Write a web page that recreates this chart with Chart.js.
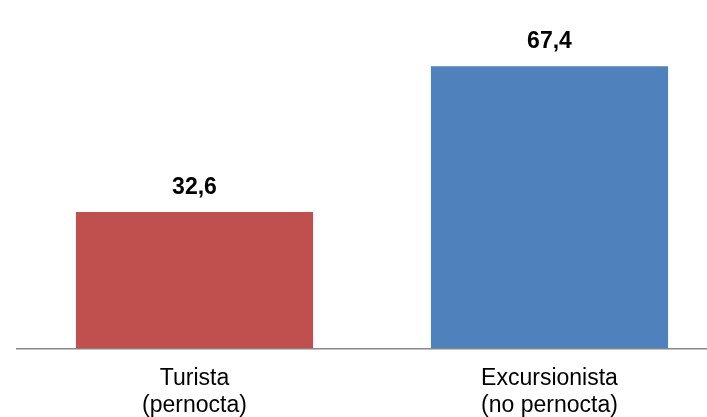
<!DOCTYPE html>
<html>
<head>
<meta charset="utf-8">
<script src="https://cdn.jsdelivr.net/npm/chart.js@4/dist/chart.umd.min.js"></script>
<style>
  html, body { margin: 0; padding: 0; background: #fff; overflow: hidden; }
  #wrap { width: 727px; height: 417px; }
</style>
</head>
<body>
<div id="wrap"><canvas id="chart"></canvas></div>
<script>
const categories = [['Turista', '(pernocta)'], ['Excursionista', '(no pernocta)']];
const values = [32.6, 67.4];
const barColors = ['#C0504D', '#4F81BD'];

function formatValue(v) {
  return v.toFixed(1).replace('.', ',');
}

// bold value labels above each bar
const valueLabels = {
  id: 'valueLabels',
  afterDatasetsDraw(chart) {
    const ctx = chart.ctx;
    const meta = chart.getDatasetMeta(0);
    ctx.save();
    ctx.font = 'bold 23px "Liberation Sans", Arial, sans-serif';
    ctx.fillStyle = '#000';
    ctx.textAlign = 'center';
    ctx.textBaseline = 'alphabetic';
    meta.data.forEach((bar, i) => {
      ctx.fillText(formatValue(values[i]), bar.x, bar.y - 18);
    });
    ctx.restore();
  }
};

new Chart(document.getElementById('chart'), {
  type: 'bar',
  data: {
    labels: categories,
    datasets: [{
      data: values,
      backgroundColor: barColors,
      borderWidth: 0,
      barPercentage: 1,
      categoryPercentage: 0.668
    }]
  },
  options: {
    responsive: true,
    maintainAspectRatio: false,
    animation: false,
    layout: { padding: { top: 13.5, left: 17, right: 0, bottom: 0 } },
    plugins: { legend: { display: false }, tooltip: { enabled: false } },
    scales: {
      x: {
        grid: { display: false, drawTicks: false },
        border: { color: '#888888', width: 1.5 },
        ticks: {
          color: '#000',
          padding: 16,
          maxRotation: 0,
          font: { family: '"Liberation Sans", Arial, sans-serif', size: 23, lineHeight: 1.2 }
        },
        afterFit(scale) { scale.height = 68.5; }
      },
      y: {
        display: false,
        min: 0,
        max: 80
      }
    }
  },
  plugins: [valueLabels]
});
</script>
</body>
</html>
